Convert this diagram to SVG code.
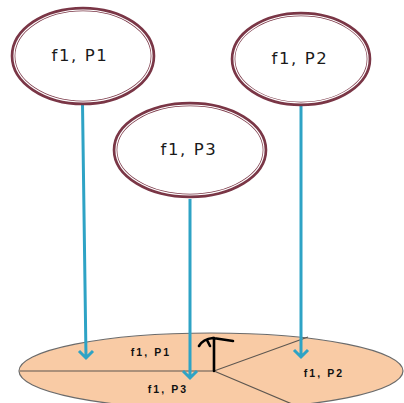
<svg xmlns="http://www.w3.org/2000/svg" width="404" height="403" viewBox="0 0 404 403">
<style>
.outer{fill:#fff;stroke:#7a3646;stroke-width:4.6}
.gap{fill:none;stroke:#fff;stroke-width:1.2}
.top{font-family:"DejaVu Sans",sans-serif;font-size:16.5px;fill:#1a1a1a;text-anchor:middle;letter-spacing:1.6px}
.bot{font-family:"Liberation Sans",Arial,sans-serif;font-size:10.5px;font-weight:bold;fill:#111;text-anchor:middle;letter-spacing:2.1px}
.conn{stroke:#2ea3c5;stroke-width:3;fill:none}
.div{stroke:#5e5750;stroke-width:1.2;fill:none}
</style>
<rect width="404" height="403" fill="#fff"/>
<g id="base">
<ellipse cx="211" cy="371" rx="192" ry="38" fill="#f9cba5" stroke="#6b6b6b" stroke-width="1.2"/>
<path class="div" d="M20 371 L214 371 L308 337 M214 371 L292 404"/>
<path d="M214 371 L214 338 M199 346 Q203 339 213 338 L233 341 M207 340 L210 346" stroke="#000" stroke-width="2.6" fill="none" stroke-linecap="round" stroke-linejoin="round"/>
<text class="bot" x="151" y="356">f1, P1</text>
<text class="bot" x="168" y="393">f1, P3</text>
<text class="bot" x="324" y="377">f1, P2</text>
</g>
<g id="connectors">
<path class="conn" d="M82.5 104 L86 358 M79 351 L86 358 L93 351"/>
<path class="conn" d="M190 199 L190 378 M183 371 L190 378 L197 371"/>
<path class="conn" d="M301 105 L301 357 M294 350 L301 357 L308 350"/>
</g>
<g id="n1">
<ellipse class="outer" cx="83" cy="56" rx="70" ry="47"/>
<ellipse class="gap" cx="83" cy="56" rx="69" ry="46"/>
<text class="top" x="80" y="61">f1, P1</text>
</g>
<g id="n2">
<ellipse class="outer" cx="301" cy="59" rx="68" ry="45"/>
<ellipse class="gap" cx="301" cy="59" rx="67" ry="44"/>
<text class="top" x="300" y="64">f1, P2</text>
</g>
<g id="n3">
<ellipse class="outer" cx="190" cy="150" rx="75" ry="46"/>
<ellipse class="gap" cx="190" cy="150" rx="74" ry="45"/>
<text class="top" x="189" y="155">f1, P3</text>
</g>
</svg>
